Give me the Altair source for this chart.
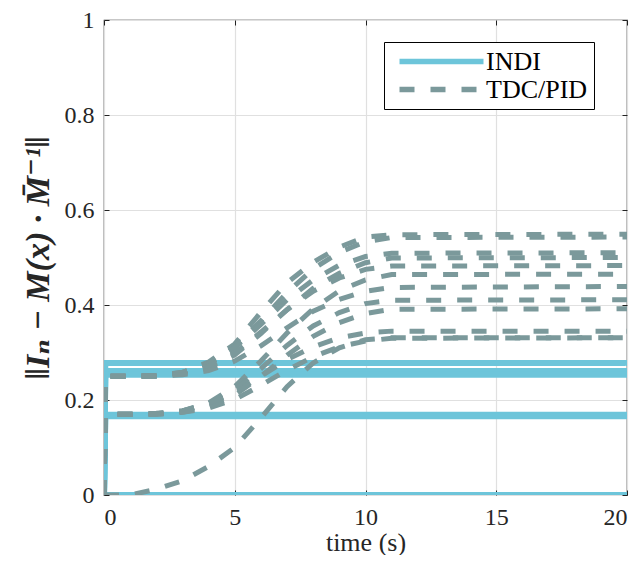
import altair as alt
import pandas as pd

# ---------------- data ----------------
t_tdc = [0, 0.05, 1, 2, 3, 4, 5, 6, 7, 8, 9, 10, 11, 20]

tdc_1 = [0, 0.250, 0.250, 0.252, 0.258, 0.280, 0.318, 0.385, 0.447, 0.490, 0.522, 0.543, 0.548, 0.549]
tdc_2 = [0, 0.250, 0.250, 0.251, 0.258, 0.276, 0.312, 0.367, 0.426, 0.476, 0.511, 0.533, 0.542, 0.543]
tdc_3 = [0, 0.250, 0.250, 0.251, 0.258, 0.276, 0.310, 0.359, 0.411, 0.453, 0.484, 0.502, 0.509, 0.510]
tdc_4 = [0, 0.250, 0.250, 0.250, 0.255, 0.268, 0.295, 0.340, 0.390, 0.435, 0.467, 0.489, 0.499, 0.500]
tdc_5 = [0, 0.250, 0.250, 0.251, 0.257, 0.271, 0.299, 0.343, 0.390, 0.429, 0.457, 0.475, 0.482, 0.483]
tdc_6 = [0, 0.170, 0.170, 0.171, 0.177, 0.194, 0.228, 0.282, 0.341, 0.392, 0.430, 0.453, 0.464, 0.465]
tdc_7 = [0, 0.250, 0.250, 0.250, 0.253, 0.262, 0.282, 0.314, 0.352, 0.387, 0.412, 0.429, 0.437, 0.439]
tdc_8 = [0, 0.170, 0.170, 0.171, 0.177, 0.192, 0.221, 0.266, 0.315, 0.356, 0.384, 0.403, 0.410, 0.411]
tdc_9 = [0, 0.170, 0.170, 0.170, 0.174, 0.186, 0.210, 0.250, 0.294, 0.334, 0.363, 0.382, 0.391, 0.392]
tdc_10 = [0, 0.170, 0.170, 0.172, 0.177, 0.191, 0.215, 0.250, 0.285, 0.312, 0.331, 0.341, 0.345, 0.345]
tdc_11 = [0, 0.000, 0.000, 0.012, 0.030, 0.060, 0.100, 0.162, 0.228, 0.278, 0.310, 0.327, 0.331, 0.331]
tdc_12 = [0, 0.170, 0.170, 0.170, 0.174, 0.183, 0.201, 0.231, 0.263, 0.291, 0.312, 0.324, 0.330, 0.331]

tdc_runs = [tdc_1, tdc_2, tdc_3, tdc_4, tdc_5, tdc_6, tdc_7, tdc_8, tdc_9, tdc_10, tdc_11, tdc_12]

t_indi = [0, 0.05, 20]
indi_levels = [0.278, 0.261, 0.253, 0.169, 0.166, 0.0]

x_ticks = [0, 5, 10, 15, 20]
y_ticks = [0, 0.2, 0.4, 0.6, 0.8, 1]

series_names = ["INDI", "TDC/PID"]
series_colors = ["#6DC5DA", "#7B999B"]

# ---------------- tables ----------------
rows = []
for k, lev in enumerate(indi_levels):
    for i, t in enumerate(t_indi):
        rows.append({"series": "INDI", "run": f"indi{k}", "t": t, "v": 0.0 if i == 0 else lev, "i": i})
for k, run in enumerate(tdc_runs):
    for i, (t, v) in enumerate(zip(t_tdc, run)):
        rows.append({"series": "TDC/PID", "run": f"tdc{k}", "t": t, "v": v, "i": i})
df = pd.DataFrame(rows)

FONT = "'Liberation Serif', 'Times New Roman', 'DejaVu Serif', serif"
W, H = 523, 475
TXT = "#262626"

xs = alt.Scale(domain=[0, 20], nice=False, zero=False)
ys = alt.Scale(domain=[0, 1], nice=False, zero=False)

color = alt.Color("series:N", scale=alt.Scale(domain=series_names, range=series_colors),
                  legend=alt.Legend(title=None, orient="none", legendX=280, legendY=22,
                                    symbolType="M-4,0H4", symbolSize=441, symbolStrokeWidth=5.5,
                                    symbolOffset=38, labelOffset=31,
                                    labelFont=FONT, labelFontSize=26, labelColor="black",
                                    strokeColor="black", fillColor="white",
                                    padding=6, rowPadding=1))
dash = alt.StrokeDash("series:N", scale=alt.Scale(domain=series_names, range=[[1, 0], [15, 16]]),
                      legend=None)

x_main = alt.X("t:Q", scale=xs, axis=alt.Axis(values=x_ticks, title="time (s)", offset=-5, domain=False,
                                              tickSize=5, tickColor="#222", labelPadding=10,
                                              labelFont=FONT, labelFontSize=24, labelColor=TXT,
                                              titleFont=FONT, titleFontSize=26, titleColor=TXT,
                                              titleFontWeight="normal",
                                              titleBaseline="alphabetic", titleY=60, grid=True))
y_main = alt.Y("v:Q", scale=ys, axis=alt.Axis(values=y_ticks, format="~g",
                                              title="‖Iₙ − M(x) · M̄⁻¹‖", offset=-5, domain=False,
                                              tickSize=5, tickColor="#222", labelPadding=10,
                                              labelFont=FONT, labelFontSize=24, labelColor=TXT,
                                              titleFont=FONT, titleFontSize=34, titleColor=TXT,
                                              titleFontStyle="italic", titleFontWeight="bold",
                                              titlePadding=9, grid=True))

indi = alt.Chart(df).transform_filter(alt.datum.series == "INDI").mark_line(
    strokeWidth=6, strokeCap="butt", clip=True
).encode(x=x_main, y=y_main, color=color, strokeDash=dash, detail="run:N", order="i:Q")

tdc = alt.Chart(df).transform_filter(alt.datum.series == "TDC/PID").mark_line(
    strokeWidth=5, strokeCap="butt", clip=True
).encode(x=alt.X("t:Q", scale=xs, axis=None), y=alt.Y("v:Q", scale=ys, axis=None),
         color=color, strokeDash=dash, detail="run:N", order="i:Q")

frame = alt.Chart(df).transform_filter(alt.datum.series == "INDI").mark_line(opacity=0).encode(
    x=alt.X("t:Q", scale=xs, axis=alt.Axis(orient="top", values=x_ticks, labels=False, title=None,
                                           offset=-5, domain=False, tickSize=5, tickColor="#222", grid=False)),
    y=alt.Y("v:Q", scale=ys, axis=alt.Axis(orient="right", values=y_ticks, labels=False, title=None,
                                           offset=-5, domain=False, tickSize=5, tickColor="#222", grid=False)),
    detail="run:N",
)

chart = alt.layer(indi, tdc, frame).resolve_axis(x="independent", y="independent").properties(
    width=W, height=H,
    autosize=alt.AutoSizeParams(type="none"),
    padding={"left": 96, "top": 12, "right": 3, "bottom": 60},
).configure_view(stroke="#222", strokeWidth=1.2).configure_axis(
    gridColor="#E0E0E0", gridWidth=1.2,
)

chart.save("out.html", embed_options={"renderer": "svg", "actions": False})
